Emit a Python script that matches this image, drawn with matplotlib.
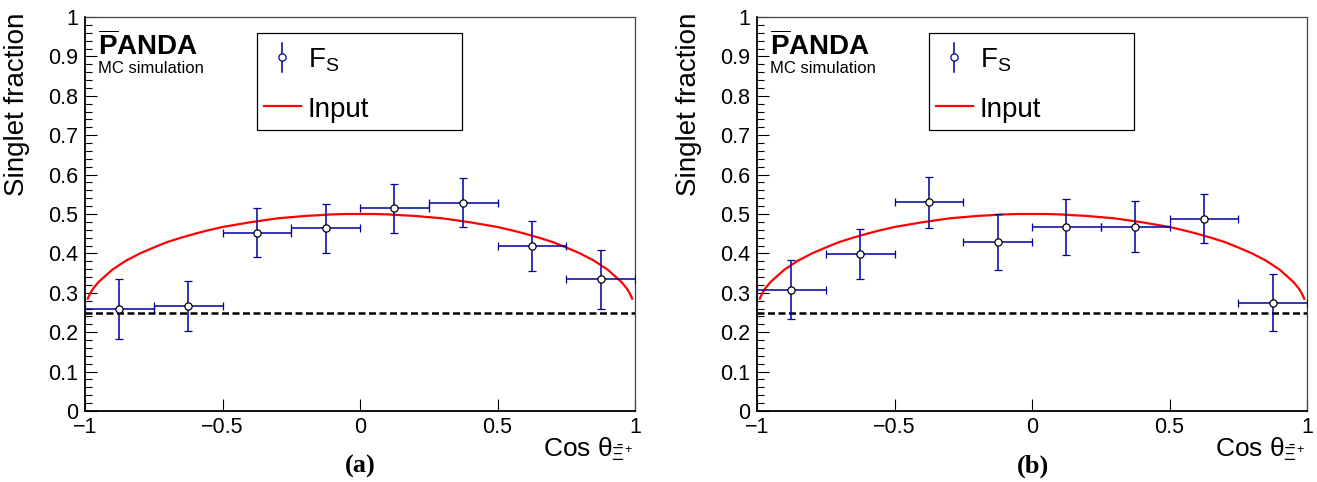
import matplotlib
matplotlib.use("Agg")
import matplotlib.pyplot as plt
from matplotlib.patches import Rectangle
from matplotlib.lines import Line2D
from matplotlib.ticker import MultipleLocator

plt.rcParams['font.family'] = ['Liberation Sans', 'DejaVu Sans']
plt.rcParams['mathtext.fontset'] = 'custom'
plt.rcParams['mathtext.rm'] = 'Liberation Sans'
plt.rcParams['mathtext.it'] = 'Liberation Sans'
plt.rcParams['mathtext.bf'] = 'Liberation Sans:bold'

# ---------------- data ----------------
bin_centers = [-0.875, -0.625, -0.375, -0.125, 0.125, 0.375, 0.625, 0.875]
bin_half_width = [0.125] * 8

fs_a = [0.258, 0.266, 0.453, 0.464, 0.514, 0.529, 0.419, 0.334]
err_a = [0.076, 0.064, 0.062, 0.062, 0.062, 0.062, 0.063, 0.075]

fs_b = [0.308, 0.399, 0.530, 0.429, 0.466, 0.468, 0.488, 0.275]
err_b = [0.074, 0.063, 0.065, 0.071, 0.071, 0.065, 0.062, 0.073]

input_x = [-0.99, -0.98, -0.97, -0.95, -0.9, -0.85, -0.8, -0.75, -0.7, -0.65,
           -0.6, -0.55, -0.5, -0.45, -0.4, -0.35, -0.3, -0.25, -0.2, -0.15,
           -0.1, -0.05, 0.0, 0.05, 0.1, 0.15, 0.2, 0.25, 0.3, 0.35, 0.4, 0.45,
           0.5, 0.55, 0.6, 0.65, 0.7, 0.75, 0.8, 0.85, 0.9, 0.95, 0.97, 0.98, 0.99]
input_y = [0.285, 0.300, 0.311, 0.328, 0.359, 0.382, 0.400, 0.415, 0.429, 0.440,
           0.450, 0.459, 0.467, 0.473, 0.479, 0.484, 0.489, 0.492, 0.495, 0.497,
           0.499, 0.500, 0.500, 0.500, 0.499, 0.497, 0.495, 0.492, 0.489, 0.484, 0.479, 0.473,
           0.467, 0.459, 0.450, 0.440, 0.429, 0.415, 0.400, 0.382, 0.359, 0.328, 0.311, 0.300, 0.285]

singlet_ref = 0.25

x_ticks = [-1, -0.5, 0, 0.5, 1]
x_tick_labels = ['\u22121', '\u22120.5', '0', '0.5', '1']
y_ticks = [0, 0.1, 0.2, 0.3, 0.4, 0.5, 0.6, 0.7, 0.8, 0.9, 1.0]
y_tick_labels = ['0', '0.1', '0.2', '0.3', '0.4', '0.5', '0.6', '0.7', '0.8', '0.9', '1']

panels = [(fs_a, err_a, '(a)'), (fs_b, err_b, '(b)')]

# ---------------- figure ----------------
W, H = 1317, 482
fig = plt.figure(figsize=(W / 100, H / 100), dpi=100)

blue = '#0000a0'
axes_px = [(85, 635), (757, 1307)]
top_px, bot_px = 17, 411

for (fs, err, cap), (x0, x1) in zip(panels, axes_px):
    ax = fig.add_axes([x0 / W, (H - bot_px) / H, (x1 - x0) / W, (bot_px - top_px) / H])
    ax.set_xlim(-1, 1)
    ax.set_ylim(0, 1)

    ax.plot(input_x, input_y, color='#ff0000', lw=1.6, zorder=2)
    ax.axhline(singlet_ref, color='black', lw=1.8, ls=(0, (2.8, 1.4)), zorder=3)
    ax.errorbar(bin_centers, fs, yerr=err, xerr=bin_half_width, fmt='o',
                color=blue, ecolor=blue, elinewidth=1.1, capsize=3.2, capthick=1.1,
                markersize=5.2, markerfacecolor='white', markeredgecolor='black',
                markeredgewidth=0.9, zorder=4)

    ax.set_xticks(x_ticks)
    ax.set_xticklabels(x_tick_labels)
    ax.set_yticks(y_ticks)
    ax.set_yticklabels(y_tick_labels)
    ax.yaxis.set_minor_locator(MultipleLocator(0.02))
    ax.tick_params(axis='both', which='both', direction='in', top=False, right=False,
                   labelsize=15.5, width=0.8)
    ax.tick_params(axis='both', which='major', length=8.6)
    ax.tick_params(axis='y', which='minor', length=5)
    ax.tick_params(axis='y', which='major', pad=5)
    ax.tick_params(axis='x', which='major', pad=4)

    for s in ['left', 'bottom']:
        ax.spines[s].set_linewidth(1.3)
    for s in ['top', 'right']:
        ax.spines[s].set_linewidth(0.9)
        ax.spines[s].set_color('#444444')

    ax.set_ylabel('Singlet fraction', fontsize=20, loc='top')
    ax.yaxis.set_label_coords(-0.1, 1.01)
    ax.set_xlabel(r'Cos $\theta_{\bar{\Xi}^{+}}$', fontsize=19, loc='right')
    ax.xaxis.label.set_va('baseline')
    ax.xaxis.set_label_coords(0.996, -0.116)

    # PANDA label
    ax.text(0.024, 0.9036, r'$\mathbf{\overline{P}ANDA}$', transform=ax.transAxes,
            fontsize=20, fontweight='bold', va='baseline', ha='left')
    ax.text(0.024, 0.858, 'MC simulation', transform=ax.transAxes,
            fontsize=12, va='baseline', ha='left')

    # legend (ROOT style box)
    ax.add_patch(Rectangle((0.312, 0.713), 0.374, 0.247, transform=ax.transAxes,
                           fill=False, edgecolor='black', lw=0.9, zorder=5))
    ax.add_line(Line2D([0.358, 0.358], [0.861, 0.935], transform=ax.transAxes,
                       color=blue, lw=1.1, zorder=6))
    ax.add_line(Line2D([0.358], [0.899], transform=ax.transAxes, marker='o',
                       markersize=5.2, markerfacecolor='white', markeredgecolor=blue,
                       markeredgewidth=0.9, zorder=7))
    ax.text(0.405, 0.871, r'F$_{\mathrm{S}}$', transform=ax.transAxes,
            fontsize=20, va='baseline', ha='left', zorder=6)
    ax.add_line(Line2D([0.325, 0.392], [0.774, 0.774], transform=ax.transAxes,
                       color='#ff0000', lw=1.6, zorder=6))
    ax.text(0.405, 0.747, 'Input', transform=ax.transAxes,
            fontsize=20, va='baseline', ha='left', zorder=6)

    ax.text(0.501, -0.14, cap, transform=ax.transAxes, fontsize=19,
            fontweight='bold', family='Liberation Serif', ha='center', va='center')

fig.savefig('out.png', dpi=100)
